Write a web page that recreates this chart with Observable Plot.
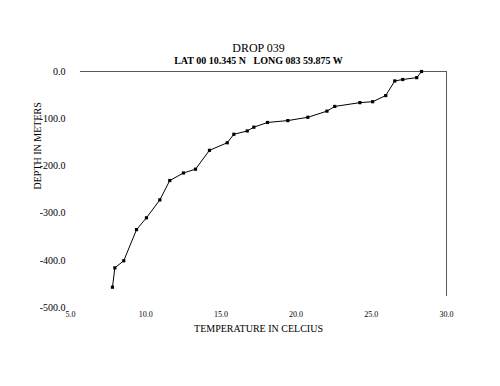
<!DOCTYPE html>
<html><head><meta charset="utf-8">
<script src="https://cdn.jsdelivr.net/npm/d3@7"></script>
<script src="https://cdn.jsdelivr.net/npm/@observablehq/plot@0.6"></script>
<style>
html,body{margin:0;padding:0;background:#fff;}
svg text{white-space:pre;}
</style></head><body><div id="chart"></div>
<script>
const title = "DROP 039";
const subtitle = "LAT 00 10.345 N   LONG 083 59.875 W";
const xLabel = "TEMPERATURE IN CELCIUS";
const yLabel = "DEPTH IN METERS";
const temperature = [7.79, 7.95, 8.54, 9.39, 10.05, 10.94, 11.60, 12.51, 13.31, 14.24, 15.42, 15.86, 16.75, 17.19, 18.10, 19.45, 20.78, 22.05, 22.57, 24.24, 25.09, 25.96, 26.56, 27.09, 28.02, 28.34];
const depth = [-457, -416, -401, -335, -310, -272, -231, -215, -207, -167, -151, -133, -126, -118, -108, -104, -97, -84, -74, -66, -64, -51, -20, -17, -13, 0];
const xTicks = [5, 10, 15, 20, 25, 30];
const yTicks = [0, -100, -200, -300, -400, -500];

const data = temperature.map((t, i) => ({t, d: depth[i]}));
const fmt = d => d.toFixed(1);

const chart = Plot.plot({
  width: 500, height: 386,
  marginLeft: 70, marginRight: 54, marginTop: 71, marginBottom: 79,
  style: {fontFamily: "'Liberation Serif', 'Times New Roman', serif", fontSize: "10px", color: "#000", background: "#fff"},
  x: {domain: [5, 30]},
  y: {domain: [-500, 0]},
  marks: [
    Plot.axisX({ticks: xTicks, tickSize: 0, tickPadding: 4, tickFormat: fmt, label: null, fontSize: 8}),
    Plot.axisY({ticks: yTicks, tickSize: 0, tickPadding: 5, tickFormat: fmt, label: null, fontSize: 10}),
    Plot.ruleY([0], {stroke: "#595959", insetLeft: 10}),
    Plot.ruleX([30], {stroke: "#595959", insetBottom: 11}),
    Plot.line(data, {x: "t", y: "d", stroke: "#000", strokeWidth: 1}),
    Plot.dot(data, {x: "t", y: "d", symbol: "square", r: 1.8, fill: "#000", stroke: null}),
    Plot.text([title], {text: d => d, frameAnchor: "top", dy: -28, fontSize: 12}),
    Plot.text([subtitle], {text: d => d, frameAnchor: "top", dy: -15, fontSize: 10, fontWeight: "bold"}),
    Plot.text([xLabel], {text: d => d, frameAnchor: "bottom", dy: 24, fontSize: 10}),
    Plot.text([yLabel], {text: d => d, frameAnchor: "left", dx: -33, rotate: -90, fontSize: 10})
  ]
});
document.getElementById("chart").append(chart);
</script>
</body></html>
